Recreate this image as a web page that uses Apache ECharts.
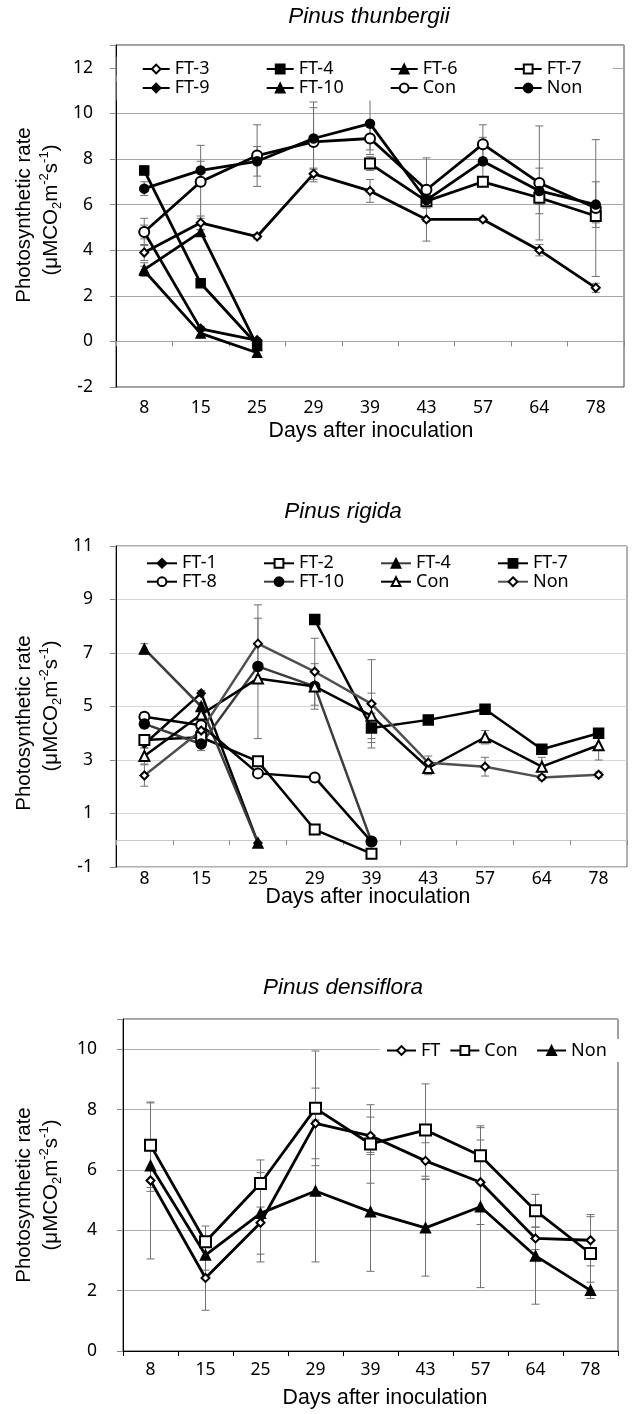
<!DOCTYPE html>
<html><head><meta charset="utf-8">
<style>html,body{margin:0;padding:0;background:#fff}#c{width:635px;height:1414px}</style>
<script src="https://cdn.jsdelivr.net/npm/echarts@6.0.0/dist/echarts.min.js"></script>
</head><body><div id="c"></div>
<script>
const N = null;
const days = ['8','15','25','29','39','43','57','64','78'];

// ---- Pinus thunbergii ----
const t_FT3  = [3.9, 5.2, 4.6, 7.35, 6.6, 5.35, 5.35, 4.0, 2.35];
const t_FT4  = [7.5, 2.55, -0.15, N, N, N, N, N, N];
const t_FT6  = [3.15, 4.8, -0.2, N, N, N, N, N, N];
const t_FT7  = [N, N, N, N, 7.8, 6.15, 7.0, 6.3, 5.5];
const t_FT9  = [4.8, 0.55, 0.05, N, N, N, N, N, N];
const t_FT10 = [3.1, 0.35, -0.5, N, N, N, N, N, N];
const t_Con  = [4.8, 7.0, 8.15, 8.75, 8.9, 6.65, 8.65, 6.95, 5.85];
const t_Non  = [6.7, 7.5, 7.9, 8.9, 9.55, 6.2, 7.9, 6.6, 6.0];
const t_FT3_err  = [0.35, 0.3, 0.1, 0.25, 0.5, 0.95, 0.1, 0.25, 0.2];
const t_FT4_err  = [0.2, 0.1, 0.2, N, N, N, N, N, N];
const t_FT6_err  = [0.3, 0.1, 0.1, N, N, N, N, N, N];
const t_FT7_err  = [N, N, N, N, 0.3, 0.3, 0.2, 0.3, 0.3];
const t_FT9_err  = [0.3, 0.1, 0.1, N, N, N, N, N, N];
const t_FT10_err = [0.2, 0.1, 0.1, N, N, N, N, N, N];
const t_Con_err  = [0.6, 1.6, 1.35, 1.75, 0.5, 1.4, 0.85, 2.5, 3.0];
const t_Non_err  = [0.3, 0.4, 0.65, 1.35, 1.35, 0.25, 1.05, 1.0, 1.0];

// ---- Pinus rigida ----
const r_FT1  = [3.6, 5.5, -0.1, N, N, N, N, N, N];
const r_FT2  = [3.75, 3.85, 2.95, 0.4, -0.5, N, N, N, N];
const r_FT4  = [7.15, 5.0, -0.1, N, N, N, N, N, N];
const r_FT7  = [N, N, N, 8.25, 4.2, 4.5, 4.9, 3.4, 4.0];
const r_FT8  = [4.62, 4.3, 2.5, 2.35, -0.05, N, N, N, N];
const r_FT10 = [4.35, 3.6, 6.5, 5.75, -0.05, N, N, N, N];
const r_Con  = [3.15, 4.7, 6.05, 5.75, 4.65, 2.7, 3.85, 2.75, 3.55];
const r_Non  = [2.42, 4.1, 7.35, 6.3, 5.1, 2.9, 2.75, 2.35, 2.45];
const r_FT1_err  = [0.15, 0.1, N, N, N, N, N, N, N];
const r_FT4_err  = [0.2, 0.15, N, N, N, N, N, N, N];
const r_FT8_err  = [0.15, 0.2, N, N, N, N, N, N, N];
const r_FT10_err = [0.15, 0.25, N, N, N, N, N, N, N];
const r_FT7_err  = [N, N, N, N, 0.55, N, N, N, N];
const r_Con_err  = [0.3, 0.4, 2.25, 0.85, 0.85, 0.25, 0.25, 0.35, 0.55];
const r_Non_err  = [0.4, 0.3, 1.45, 1.25, 1.65, 0.25, 0.35, 0.1, 0.1];

// ---- Pinus densiflora ----
const d_FT  = [5.65, 2.42, 4.25, 7.54, 7.13, 6.3, 5.59, 3.73, 3.67];
const d_Con = [6.82, 3.62, 5.55, 8.04, 6.86, 7.32, 6.47, 4.65, 3.23];
const d_Non = [6.14, 3.18, 4.56, 5.3, 4.61, 4.08, 4.78, 3.15, 2.01];
const d_FT_err  = [2.6, 1.07, 1.3, 1.17, 0.62, 0.6, 1.4, 0.37, 0.85];
const d_Con_err = [1.4, 0.52, 0.78, 1.9, 1.3, 1.53, 0.93, 0.54, 1.22];
const d_Non_err = [0.85, 0.5, 1.35, 2.35, 1.97, 1.6, 2.68, 1.6, 0.27];

const LAB = 'Noto Sans';
const TIT = 'Liberation Sans';

function line(name, data, xi, yi, symbol, size, lw, lineColor) {
  return {
    type: 'line', name, data, xAxisIndex: xi, yAxisIndex: yi,
    symbol, symbolSize: size, showAllSymbol: true, z: 3,
    lineStyle: { color: lineColor || '#000', width: lw },
    itemStyle: { color: '#000', borderColor: '#000', borderWidth: 1.5 },
    emphasis: { disabled: true }, animation: false
  };
}
function errData(pairs) {
  const out = [];
  pairs.forEach(([vals, errs]) => {
    vals.forEach((v, i) => {
      if (v != null && errs[i] != null && errs[i] > 0) out.push([i, v - errs[i], v + errs[i]]);
    });
  });
  return out;
}
function renderErr(params, api) {
  const a = api.coord([api.value(0), api.value(1)]);
  const b = api.coord([api.value(0), api.value(2)]);
  const w = 4;
  const st = { stroke: '#707070', lineWidth: 1 };
  return { type: 'group', children: [
    { type: 'line', shape: { x1: a[0], y1: a[1], x2: b[0], y2: b[1] }, style: st },
    { type: 'line', shape: { x1: a[0] - w, y1: a[1], x2: a[0] + w, y2: a[1] }, style: st },
    { type: 'line', shape: { x1: b[0] - w, y1: b[1], x2: b[0] + w, y2: b[1] }, style: st }
  ]};
}
function errSeries(data, xi, yi) {
  return { type: 'custom', renderItem: renderErr, data, xAxisIndex: xi, yAxisIndex: yi,
    encode: { x: 0, y: [1, 2] }, z: 1, silent: true, animation: false };
}
function yAxis(gi, min, max, hideMax, splitColor, margin) {
  return {
    gridIndex: gi, type: 'value', min, max, interval: 2,
    axisLine: { show: true, lineStyle: { color: '#000', width: 1 } },
    axisTick: { show: true, length: 6, lineStyle: { color: '#888' } },
    axisLabel: { fontSize: 17.5, fontFamily: LAB, color: '#000', margin,
      formatter: v => (v === hideMax ? '' : String(v)) },
    splitLine: { show: true, lineStyle: { color: splitColor, width: 1 } }
  };
}
function labelAxis(gi, margin) {
  return { gridIndex: gi, type: 'category', data: days, position: 'bottom', boundaryGap: true,
    axisLine: { show: false, onZero: false }, axisTick: { show: false },
    axisLabel: { fontSize: 17.5, fontFamily: LAB, color: '#000', margin, interval: 0 },
    splitLine: { show: false } };
}
function zeroAxis(gi, color) {
  return { gridIndex: gi, type: 'category', data: days, position: 'top', boundaryGap: true,
    axisLine: { show: true, onZero: true, lineStyle: { color, width: 1 } },
    axisTick: { show: true, inside: true, length: 5, interval: 0, lineStyle: { color: '#888' } },
    axisLabel: { show: false }, splitLine: { show: false } };
}
function legend(names, left, top, itemWidth, itemGap, textWidth, padding, bg) {
  const ts = { fontSize: 18, fontFamily: LAB, color: '#000', lineHeight: 19 };
  if (textWidth) ts.width = textWidth;
  return { data: names, left, top, orient: 'horizontal', itemWidth, itemHeight: 11, itemGap,
    padding, backgroundColor: bg || 'transparent', selectedMode: false, textStyle: ts };
}
function ytitle(x1, y1, x2, y2) {
  return [
    { type: 'text', x: x1, y: y1, rotation: Math.PI / 2, silent: true,
      style: { text: 'Photosynthetic rate', fontSize: 20.5, fontFamily: TIT, fill: '#000',
        align: 'center', verticalAlign: 'middle' } },
    { type: 'text', x: x2, y: y2, rotation: Math.PI / 2, silent: true,
      style: { text: '{n|(μMCO}{sb|2}{n|m}{sp|-2}{n|s}{sp|-1}{n|)}', fontSize: 20.5, fontFamily: TIT,
        fill: '#000', align: 'center', verticalAlign: 'middle',
        rich: {
          n: { fontSize: 20.5, fontFamily: TIT, lineHeight: 26, verticalAlign: 'middle', fill: '#000' },
          sp: { fontSize: 13, fontFamily: TIT, verticalAlign: 'top', fill: '#000' },
          sb: { fontSize: 13, fontFamily: TIT, verticalAlign: 'bottom', fill: '#000' }
        } } }
  ];
}
function txt(x, y, text, size, italic) {
  return { type: 'text', x, y, silent: true,
    style: { text, fontSize: size, fontFamily: TIT, fontStyle: italic ? 'italic' : 'normal',
      fill: '#000', align: 'center', verticalAlign: 'middle' } };
}

const chart = echarts.init(document.getElementById('c'), null, { renderer: 'canvas' });
const option = {
  animation: false,
  backgroundColor: '#fff',
  grid: [
    { left: 116, top: 45, width: 508, height: 342, show: true, borderColor: '#404040', borderWidth: 1 },
    { left: 116, top: 546, width: 511, height: 321, show: true, borderColor: '#606060', borderWidth: 1 },
    { left: 123, top: 1019, width: 495, height: 332, show: true, borderColor: '#404040', borderWidth: 1 }
  ],
  xAxis: [
    labelAxis(0, 12), zeroAxis(0, '#a6a6a6'),
    labelAxis(1, 3), zeroAxis(1, '#c8c8c8'),
    { gridIndex: 2, type: 'category', data: days, position: 'bottom', boundaryGap: true,
      axisLine: { show: true, lineStyle: { color: '#000', width: 1 } },
      axisTick: { show: true, length: 5, interval: 0, lineStyle: { color: '#000' } },
      axisLabel: { fontSize: 17.5, fontFamily: LAB, color: '#000', margin: 10, interval: 0 },
      splitLine: { show: false } }
  ],
  yAxis: [
    yAxis(0, -2, 13, 13, '#a6a6a6', 23),
    yAxis(1, -1, 11, null, '#d6d6d6', 23),
    yAxis(2, 0, 11, 11, '#b0b0b0', 26)
  ],
  legend: [
    legend(['FT-3', 'FT-4', 'FT-6', 'FT-7'], 116.7, 56.5, 27, 39, 52, [3, 14, 3, 25], '#fff'),
    legend(['FT-9', 'FT-10', 'Con', 'Non'], 116.7, 75.5, 27, 39, 52, [3, 14, 3, 25], '#fff'),
    legend(['FT-1', 'FT-2', 'FT-4 ', 'FT-7 '], 146, 553.8, 30, 29, 52, 0),
    legend(['FT-8', 'FT-10 ', 'Con ', 'Non '], 146, 572.2, 30, 29, 52, 0),
    legend(['FT', 'Con  ', 'Non  '], 380, 1039, 29, 9, null, [2, 5, 2, 6], '#fff')
  ],
  series: [
    errSeries(errData([[t_FT3, t_FT3_err], [t_FT4, t_FT4_err], [t_FT6, t_FT6_err], [t_FT7, t_FT7_err],
      [t_FT9, t_FT9_err], [t_FT10, t_FT10_err], [t_Con, t_Con_err], [t_Non, t_Non_err]]), 0, 0),
    line('FT-3', t_FT3, 0, 0, 'emptyDiamond', 8, 2.8),
    line('FT-4', t_FT4, 0, 0, 'rect', 9, 2.8),
    line('FT-6', t_FT6, 0, 0, 'triangle', 9, 2.8),
    line('FT-7', t_FT7, 0, 0, 'emptyRect', 10, 2.8),
    line('FT-9', t_FT9, 0, 0, 'diamond', 9, 2.8),
    line('FT-10', t_FT10, 0, 0, 'triangle', 9, 2.8),
    line('Con', t_Con, 0, 0, 'emptyCircle', 10, 2.8),
    line('Non', t_Non, 0, 0, 'circle', 9, 2.8),

    errSeries(errData([[r_FT1, r_FT1_err], [r_FT4, r_FT4_err], [r_FT8, r_FT8_err], [r_FT10, r_FT10_err],
      [r_FT7, r_FT7_err], [r_Con, r_Con_err], [r_Non, r_Non_err]]), 2, 1),
    line('FT-1', r_FT1, 2, 1, 'diamond', 8, 2.5),
    line('FT-2', r_FT2, 2, 1, 'emptyRect', 10, 2.5),
    line('FT-4 ', r_FT4, 2, 1, 'triangle', 10, 2.5, '#3c3c3c'),
    line('FT-7 ', r_FT7, 2, 1, 'rect', 10, 2.5),
    line('FT-8', r_FT8, 2, 1, 'emptyCircle', 10, 2.5),
    line('FT-10 ', r_FT10, 2, 1, 'circle', 10, 2.5, '#3c3c3c'),
    line('Con ', r_Con, 2, 1, 'emptyTriangle', 10, 2.5),
    line('Non ', r_Non, 2, 1, 'emptyDiamond', 8, 2.5, '#505050'),

    errSeries(errData([[d_FT, d_FT_err], [d_Con, d_Con_err], [d_Non, d_Non_err]]), 4, 2),
    line('FT', d_FT, 4, 2, 'emptyDiamond', 8, 2.8),
    line('Con  ', d_Con, 4, 2, 'emptyRect', 11, 2.8),
    line('Non  ', d_Non, 4, 2, 'triangle', 10, 2.8)
  ],
  graphic: [
    txt(369, 17, 'Pinus thunbergii', 22.5, true),
    txt(371, 431, 'Days after inoculation', 21.3, false),
    txt(343, 512, 'Pinus rigida', 22.5, true),
    txt(368, 897, 'Days after inoculation', 21.3, false),
    txt(343, 988, 'Pinus densiflora', 22.5, true),
    txt(385, 1398, 'Days after inoculation', 21.3, false),
    ...ytitle(24, 215, 51, 210),
    ...ytitle(24, 723, 51, 706),
    ...ytitle(24, 1195, 51, 1185)
  ]
};
chart.setOption(option);
</script></body></html>
